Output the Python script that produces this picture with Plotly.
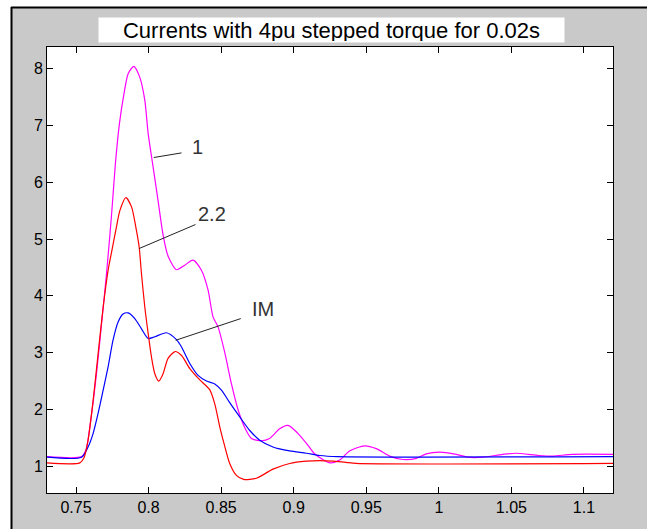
import plotly.graph_objects as go

# ---- data ----
x_m = [0.73, 0.7538, 0.757, 0.7595, 0.7641, 0.7676, 0.771, 0.7744, 0.7772, 0.7800, 0.7830, 0.7859,
       0.7898, 0.7939, 0.7974, 0.7997, 0.8031, 0.8065, 0.81, 0.8134, 0.8192, 0.8249, 0.8306,
       0.8364, 0.841, 0.8444, 0.8479, 0.8525, 0.8571, 0.8616, 0.8663, 0.8709, 0.8777, 0.8834,
       0.8903, 0.896, 0.9029, 0.9098, 0.9144, 0.9248, 0.9317, 0.9385, 0.9489, 0.9569, 0.9661,
       0.9752, 0.9845, 0.9913, 1.0005, 1.012, 1.02, 1.03, 1.044, 1.053, 1.069, 1.0785, 1.092, 1.12]
y_m = [1.17, 1.17, 1.30, 1.69, 2.63, 3.51, 4.39, 5.40, 6.35, 7.05, 7.55, 7.91,
       8.04, 7.85, 7.44, 6.86, 6.27, 5.68, 5.07, 4.70, 4.46, 4.54, 4.63,
       4.45, 4.10, 3.63, 3.45, 3.00, 2.45, 2.00, 1.68, 1.49, 1.45, 1.49,
       1.66, 1.72, 1.58, 1.37, 1.22, 1.06, 1.11, 1.27, 1.36, 1.31, 1.18,
       1.12, 1.14, 1.22, 1.25, 1.21, 1.16, 1.16, 1.21, 1.23, 1.19, 1.18, 1.21, 1.21]

x_r = [0.73, 0.7526, 0.7555, 0.7583, 0.7618, 0.7652, 0.7687, 0.7721, 0.7755, 0.7779, 0.7802,
       0.7843, 0.7882, 0.7912, 0.7935, 0.7951, 0.7974, 0.7997, 0.802, 0.8043, 0.807, 0.81,
       0.8134, 0.8183, 0.8227, 0.8284, 0.8353, 0.8421, 0.8456, 0.849, 0.8525, 0.8559, 0.8605,
       0.8655, 0.8743, 0.8857, 0.8972, 0.9087, 0.918, 0.927, 0.936, 0.943, 1.12]
y_r = [1.06, 1.06, 1.15, 1.46, 2.16, 2.98, 3.80, 4.45, 4.90, 5.22, 5.50,
       5.73, 5.57, 5.21, 4.86, 4.39, 3.80, 3.34, 2.92, 2.63, 2.50, 2.63,
       2.90, 3.02, 2.95, 2.72, 2.52, 2.35, 2.10, 1.70, 1.35, 1.05, 0.84,
       0.77, 0.79, 0.95, 1.05, 1.09, 1.10, 1.09, 1.07, 1.05, 1.05]

x_b = [0.73, 0.7538, 0.7583, 0.7618, 0.7652, 0.7687, 0.7721, 0.7755, 0.779, 0.7824, 0.7859,
       0.7905, 0.7951, 0.7997, 0.8043, 0.8123, 0.8192, 0.8227, 0.8284, 0.8341, 0.8399, 0.8456,
       0.8502, 0.8559, 0.8628, 0.8697, 0.8766, 0.8857, 0.8972, 0.9087, 0.9179, 0.93, 1.12]
y_b = [1.16, 1.16, 1.34, 1.58, 1.93, 2.34, 2.75, 3.22, 3.54, 3.68, 3.70,
       3.60, 3.42, 3.25, 3.28, 3.35, 3.23, 3.10, 2.81, 2.60, 2.50, 2.45,
       2.34, 2.12, 1.87, 1.63, 1.46, 1.34, 1.27, 1.23, 1.19, 1.17, 1.17]

x_ticks = [0.75, 0.8, 0.85, 0.9, 0.95, 1, 1.05, 1.1]
x_ticklabels = ["0.75", "0.8", "0.85", "0.9", "0.95", "1", "1.05", "1.1"]
y_ticks = [1, 2, 3, 4, 5, 6, 7, 8]

title_text = "Currents with 4pu stepped torque for 0.02s"
labels = ["1", "2.2", "IM"]

FONT = "Liberation Sans, Arial, Helvetica, sans-serif"
GRAY = "#c9c9c9"

fig = go.Figure()
for xs, ys, col in [(x_m, y_m, "#ff00ff"), (x_b, y_b, "#0000ff"), (x_r, y_r, "#ff0000")]:
    fig.add_trace(go.Scatter(x=xs, y=ys, mode="lines",
                             line=dict(color=col, width=1.2, shape="spline", smoothing=0.7),
                             showlegend=False, hoverinfo="skip"))

axis_common = dict(showgrid=False, zeroline=False, showline=True, linecolor="black",
                   linewidth=1, mirror="ticks", ticks="inside", ticklen=6, tickwidth=1,
                   tickcolor="black", tickfont=dict(family=FONT, size=16, color="black"))

fig.update_xaxes(range=[0.73, 1.12], tickvals=x_ticks, ticktext=x_ticklabels, **axis_common)
fig.update_yaxes(range=[0.53, 8.38], tickvals=y_ticks, **axis_common)

# Annotation leader lines (data coordinates)
leaders = [((0.8036, 6.435), (0.8227, 6.516)),
           ((0.7935, 4.833), (0.8323, 5.255)),
           ((0.8187, 3.218), (0.8635, 3.600))]
text_pos = [(0.8284, 6.62), (0.8330, 5.437), (0.8702, 3.764)]
for (p0, p1) in leaders:
    fig.add_shape(type="line", xref="x", yref="y", x0=p0[0], y0=p0[1], x1=p1[0], y1=p1[1],
                  line=dict(color="#222222", width=1))
for lab, (tx, ty) in zip(labels, text_pos):
    fig.add_annotation(x=tx, y=ty, xref="x", yref="y", text=lab, showarrow=False,
                       xanchor="left", yanchor="middle",
                       font=dict(family=FONT, size=20, color="#333333"))

# Title in a white box
fig.add_annotation(x=0.5027, y=1.0392, xref="paper", yref="paper", text=title_text,
                   showarrow=False, xanchor="center", yanchor="middle",
                   bgcolor="white", width=463, height=22, borderpad=1,
                   font=dict(family=FONT, size=22, color="black"))

# Window frame: white strips outside a black border at top and left
W, H, L, T = 566.0, 446.0, 47.0, 47.0
def px(v):
    return (v - L) / W
def py(v):
    return (493.0 - v) / H
fig.add_shape(type="rect", xref="paper", yref="paper", x0=px(-5), x1=px(660), y0=py(-5), y1=py(7),
              fillcolor="white", line=dict(width=0), layer="above")
fig.add_shape(type="rect", xref="paper", yref="paper", x0=px(-5), x1=px(11), y0=py(-5), y1=py(540),
              fillcolor="white", line=dict(width=0), layer="above")
fig.add_shape(type="line", xref="paper", yref="paper", x0=px(11), x1=px(660), y0=py(7.5), y1=py(7.5),
              line=dict(color="black", width=2), layer="above")
fig.add_shape(type="line", xref="paper", yref="paper", x0=px(11.5), x1=px(11.5), y0=py(7), y1=py(540),
              line=dict(color="black", width=2), layer="above")

fig.update_layout(width=647, height=529, margin=dict(l=47, r=34, t=47, b=36),
                  paper_bgcolor=GRAY, plot_bgcolor="white",
                  font=dict(family=FONT))

fig.write_html("out.html")
